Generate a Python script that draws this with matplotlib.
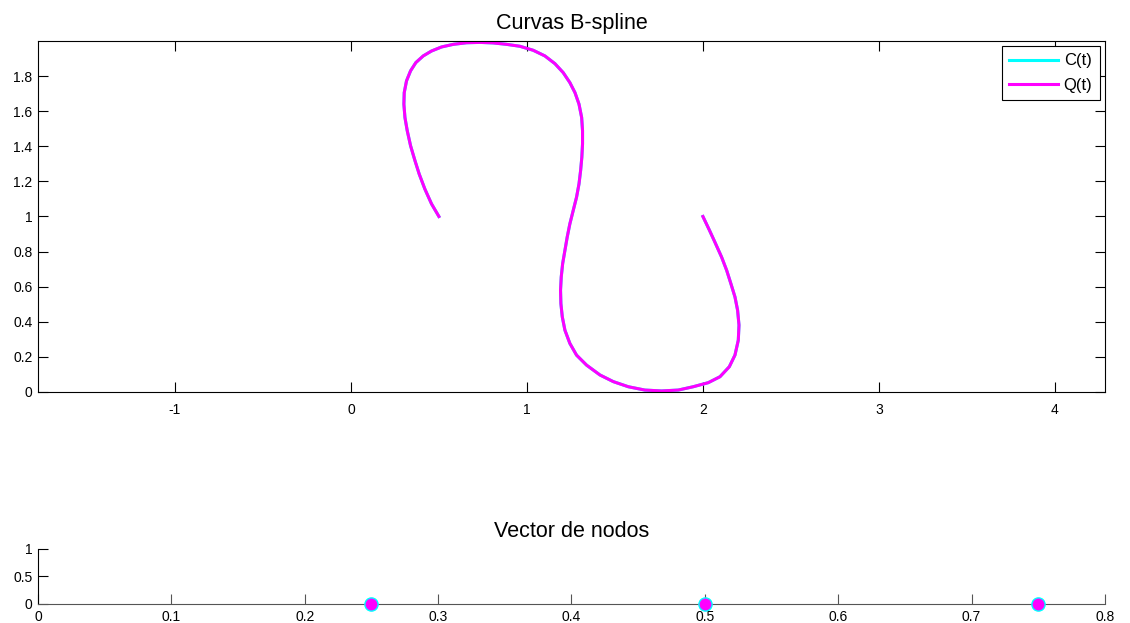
import numpy as np
import matplotlib
matplotlib.use("Agg")
import matplotlib.pyplot as plt

# B-spline curve points
curve_x = [0.500, 0.458, 0.420, 0.388, 0.364, 0.339, 0.320, 0.307, 0.301, 0.303,
           0.316, 0.339, 0.369, 0.411, 0.458, 0.515, 0.582, 0.657, 0.733, 0.809,
           0.884, 0.960, 1.036, 1.102, 1.159, 1.206, 1.244, 1.273, 1.296, 1.311,
           1.316, 1.316, 1.312, 1.305, 1.296, 1.282, 1.263, 1.244, 1.229, 1.216,
           1.203, 1.195, 1.191, 1.193, 1.201, 1.216, 1.244, 1.282, 1.339, 1.415,
           1.491, 1.576, 1.670, 1.765, 1.860, 1.945, 2.030, 2.097, 2.150, 2.182,
           2.201, 2.205, 2.197, 2.182, 2.159, 2.135, 2.106, 2.068, 2.036, 2.000]
curve_y = [1.000, 1.072, 1.157, 1.242, 1.318, 1.403, 1.489, 1.564, 1.640, 1.706,
           1.773, 1.830, 1.877, 1.915, 1.943, 1.966, 1.981, 1.990, 1.992, 1.989,
           1.981, 1.970, 1.947, 1.915, 1.871, 1.820, 1.763, 1.706, 1.640, 1.564,
           1.489, 1.413, 1.337, 1.261, 1.186, 1.110, 1.034, 0.958, 0.883, 0.807,
           0.731, 0.655, 0.580, 0.504, 0.428, 0.352, 0.277, 0.210, 0.153, 0.097,
           0.059, 0.030, 0.011, 0.006, 0.011, 0.030, 0.053, 0.087, 0.144, 0.210,
           0.295, 0.381, 0.466, 0.542, 0.617, 0.693, 0.769, 0.854, 0.924, 1.000]

# knot vector (interior knots shown)
knots = [0.25, 0.5, 0.75]

plt.rcParams['font.family'] = ['Liberation Sans', 'DejaVu Sans']

fig = plt.figure(figsize=(11.3, 6.23), dpi=100)

# --- top: the curve ---
ax = fig.add_axes([0.0336, 0.3708, 0.9442, 0.5634])
ax.plot(curve_x, curve_y, color='cyan', linewidth=2.2, label='C(t)')
ax.plot(curve_x, curve_y, color='magenta', linewidth=2.2, label='Q(t)',
        solid_joinstyle='round')
ax.set_xlim(-1.778, 4.284)
ax.set_ylim(0, 2)
ax.set_xticks([-1, 0, 1, 2, 3, 4])
ax.set_xticklabels(['-1', '0', '1', '2', '3', '4'])
ax.set_yticks([0, 0.2, 0.4, 0.6, 0.8, 1, 1.2, 1.4, 1.6, 1.8])
ax.set_yticklabels(['0', '0.2', '0.4', '0.6', '0.8', '1', '1.2', '1.4', '1.6', '1.8'])
ax.tick_params(direction='in', length=7, width=0.8, top=True, right=True,
               labelsize=10)
ax.tick_params(axis='x', pad=8)
ax.tick_params(axis='y', pad=4)
ax.set_title('Curvas B-spline', fontsize=15.5, pad=8.5)
leg = ax.legend(loc='upper right', fontsize=12, fancybox=False, edgecolor='black',
                framealpha=1, handlelength=2.9, handletextpad=0.35,
                labelspacing=0.55, borderpad=0.45, borderaxespad=0.3)
leg.get_frame().set_linewidth(0.8)

# --- bottom: knot vector ---
ax2 = fig.add_axes([0.0336, 0.0305, 0.9442, 0.0883])
ax2.plot(knots, [0] * len(knots), linestyle='none', marker='o', markersize=9.5,
         markerfacecolor='magenta', markeredgecolor='cyan', markeredgewidth=1,
         clip_on=False, zorder=5)
ax2.set_xlim(0, 0.8)
ax2.set_ylim(0, 1)
ax2.set_xticks(np.arange(0, 0.81, 0.1))
ax2.set_xticklabels(['0', '0.1', '0.2', '0.3', '0.4', '0.5', '0.6', '0.7', '0.8'])
ax2.set_yticks([0, 0.5, 1])
ax2.set_yticklabels(['0', '0.5', '1'])
ax2.spines['top'].set_visible(False)
ax2.spines['right'].set_visible(False)
ax2.spines['bottom'].set_color('#555555')
ax2.tick_params(direction='in', length=7, width=0.8, labelsize=10)
ax2.tick_params(axis='x', pad=4, color='#555555')
ax2.tick_params(axis='y', pad=4)
ax2.set_title('Vector de nodos', fontsize=15.5, pad=8.5)

fig.savefig('out.png', dpi=100)
